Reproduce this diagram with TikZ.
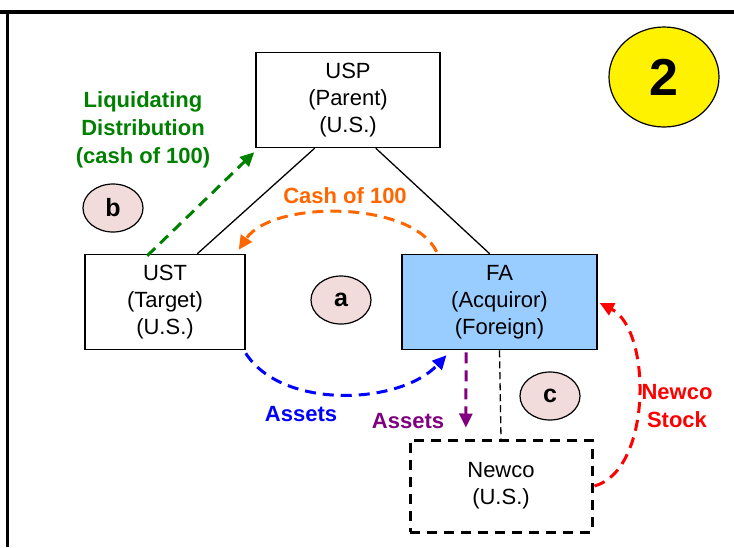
\documentclass[tikz,border=0pt]{standalone}
\usepackage{fontspec}
\setmainfont{Liberation Sans}
\usepackage{tikz}
\usetikzlibrary{calc}
\usetikzlibrary{arrows.meta}
\usetikzlibrary{shapes.geometric}

\definecolor{FAblue}{HTML}{99CCFF}
\definecolor{StepPink}{HTML}{F2DCDB}
\definecolor{LiqGreen}{HTML}{008000}
\definecolor{CashOrange}{HTML}{FF6600}
\definecolor{AssetBlue}{HTML}{0000FF}
\definecolor{AssetPurple}{HTML}{800080}
\definecolor{StockRed}{HTML}{FF0000}

\tikzset{
    entity/.style={draw, line width=1.5pt, minimum width=#1, minimum height=95pt,
        align=center, inner sep=0pt, font=\fontsize{22}{27}\selectfont},
    entity/.default=160pt,
    stepmark/.style={ellipse, draw, line width=1.2pt, fill=StepPink,
        minimum width=60pt, minimum height=48pt, inner sep=0pt,
        font=\fontsize{25}{25}\selectfont\bfseries},
    flow/.style={dashed, line width=3pt, dash pattern=on 11pt off 7pt,
        -{Triangle[length=14pt, width=13pt]}},
    flowtext/.style={align=center, font=\fontsize{22}{28}\selectfont\bfseries},
}

\begin{document}
\begin{tikzpicture}[x=1pt, y=-1pt]
        \useasboundingbox (0,0) rectangle (734,547);

        % frame
        \draw[line width=4pt] (0,12) -- (734,12);
        \draw[line width=3pt] (7,10) -- (7,547);

        % entities
        \node[entity=184pt] (usp) at (348,100) {USP\\(Parent)\\(U.S.)};
        \node[entity] (ust) at (165,302) {UST\\(Target)\\(U.S.)};
        \node[entity=195pt, fill=FAblue] (fa) at (499.5,302) {FA\\(Acquiror)\\(Foreign)};
        \node[entity=182pt, dashed, line width=3pt, dash pattern=on 10pt off 7pt,
            minimum height=92pt] (newco) at (501,486) {Newco\\(U.S.)};

        % ownership lines
        \draw[line width=1.3pt] ($(ust.north west)!0.7!(ust.north east)$)
            -- ($(usp.south west)!0.32!(usp.south east)$);
        \draw[line width=1.3pt] ($(fa.north west)!0.45!(fa.north east)$)
            -- ($(usp.south west)!0.65!(usp.south east)$);
        \draw[line width=1.3pt, dashed, dash pattern=on 7pt off 4pt] (fa.south) -- (newco.north);

        % step (b)
        \draw[flow, LiqGreen] ($(ust.north west)!0.39!(ust.north east)+(0,2)$)
            -- ($(usp.south west)+(-1,4)$);
        \node[flowtext, text=LiqGreen] (liqtext) at (143,130)
            {Liquidating\\Distribution\\(cash of 100)};
        \node[stepmark] (b) at (113,208) {b};

        % step (a)
        \coordinate (cashstart) at ($(fa.north west)!0.18!(fa.north east)+(0,-2)$);
        \coordinate (cashend) at ($(ust.north east)+(-7,-4)$);
        \draw[flow, CashOrange] (cashstart) .. controls (412,200) and (272,200) .. (cashend);
        \node[flowtext, text=CashOrange] (cashtext) at (345,196) {Cash of 100};
        \node[stepmark] (a) at (341,300) {a};

        \coordinate (assetstart) at ($(ust.south east)+(0,3)$);
        \coordinate (assetend) at ($(fa.south west)!0.23!(fa.south east)+(0,5)$);
        \draw[flow, AssetBlue] (assetstart) .. controls (282,410) and (400,405) .. (assetend);
        \node[flowtext, text=AssetBlue] (assettext) at (301,414) {Assets};

        % step (c)
        \draw[flow, AssetPurple] ($(fa.south west)!0.33!(fa.south east)+(0,2)$)
            -- ($(newco.north west)!0.31!(newco.north east)+(0,-11)$);
        \node[flowtext, text=AssetPurple] (droptext) at (408,421) {Assets};
        \node[stepmark] (c) at (550,396) {c};

        \draw[flow, StockRed] ($(newco.east)+(1,0)$) .. controls (652,470) and (652,330) .. ($(fa.east)+(2,1)$);
        \node[flowtext, text=StockRed] (stocktext) at (677,406) {Newco\\Stock};

        % case number
        \node[ellipse, draw, line width=1.2pt, fill=yellow, minimum width=110pt,
            minimum height=100pt, font=\fontsize{52}{52}\selectfont\bfseries] (casenum) at (664,77) {2};
\end{tikzpicture}
\end{document}
